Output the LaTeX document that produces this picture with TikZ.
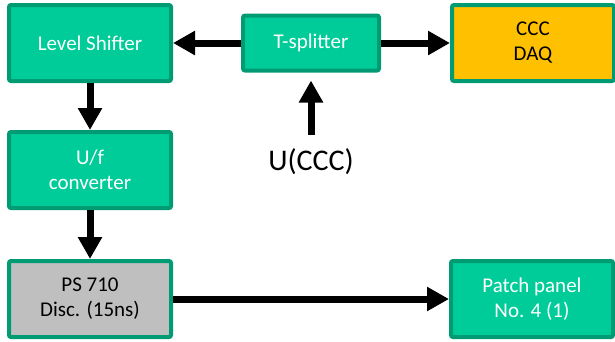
\documentclass[tikz,border=0pt]{standalone}
\usepackage{fontspec}
\setmainfont{Carlito}
\usetikzlibrary{positioning,arrows.meta}
\definecolor{boxgreen}{RGB}{0,204,153}
\definecolor{boxedge}{RGB}{0,155,115}
\definecolor{daqorange}{RGB}{255,192,0}
\definecolor{discgray}{RGB}{191,191,191}

\begin{document}
\begin{tikzpicture}[x=1pt, y=1pt,
  block/.style={rectangle, draw=boxedge, line width=4pt, rounded corners=2pt, fill=boxgreen, text=white,
    align=center, inner sep=0pt, minimum width=162pt, minimum height=76pt, font=\fontsize{21}{25}\selectfont},
  flow/.style={-{Triangle[width=23pt, length=22pt]}, line width=7pt}]
  \useasboundingbox (0,0) rectangle (615,-341);

  % top row
  \node[block](LevelShifter) at (90,-43){Level Shifter};
  \node[block, minimum width=136pt, minimum height=55pt, right=68pt of LevelShifter](TSplitter){T-splitter};
  \node[block, fill=daqorange, text=black, right=69pt of TSplitter](CCCDaq){CCC\\DAQ};
  \node[anchor=base, inner xsep=0pt, inner ysep=13pt, font=\fontsize{30}{36}\selectfont](UCCC) at (311,-170){U(CCC)};

  % left column and output
  \node[block, below=47pt of LevelShifter](UfConv){U/f\\converter};
  \node[block, fill=discgray, text=black, below=49pt of UfConv](PSDisc){PS 710\\Disc. (15ns)};
  \node[block, right=276pt of PSDisc](PatchPanel){Patch panel\\No. 4 (1)};

  \path[flow]
  (TSplitter) edge (LevelShifter)
  (TSplitter) edge (CCCDaq)
  (UCCC.north) edge[shorten >=8pt] (TSplitter.south)
  (LevelShifter) edge (UfConv)
  (UfConv) edge (PSDisc)
  (PSDisc) edge (PatchPanel);
\end{tikzpicture}
\end{document}
